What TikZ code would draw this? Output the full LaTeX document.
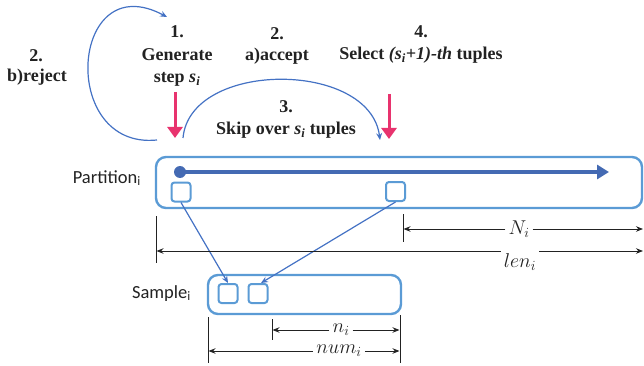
\RequirePackage{fix-cm}
\documentclass[tikz,border=0pt]{standalone}
\usepackage{fontspec}
\setmainfont{Liberation Serif}
\newfontfamily\labelsans{Carlito}
\usetikzlibrary{arrows.meta}

\definecolor{boxblue}{RGB}{91,155,213}
\definecolor{flowblue}{RGB}{68,106,179}
\definecolor{linkblue}{RGB}{68,114,196}
\definecolor{markpink}{RGB}{232,51,110}
\definecolor{ink}{RGB}{34,34,34}

\begin{document}
\begin{tikzpicture}[x=1pt,y=-1pt,
  steptext/.style={font=\fontsize{18}{21}\selectfont\bfseries, text=ink, anchor=base, inner sep=0pt},
  sidelabel/.style={font=\fontsize{18.5}{21}\selectfont\labelsans, text=ink, anchor=base east, inner sep=0pt},
  panel/.style={draw=boxblue, line width=2.4pt, rounded corners=10pt, inner sep=0pt},
  cell/.style={draw=boxblue, line width=2pt, rounded corners=3pt, minimum width=19pt, minimum height=19pt, inner sep=0pt},
  link/.style={draw=linkblue, line width=1.2pt, -{Stealth[length=7pt,width=6pt,inset=2.5pt]}},
  flow/.style={draw=flowblue, line width=4.5pt, -{Triangle[length=12pt,width=14pt]}},
  pinkarrow/.style={draw=markpink, line width=3pt, -{Triangle[length=11pt,width=15pt]}},
  tick/.style={draw=ink, line width=1pt},
  dim/.style={draw=ink, line width=0.9pt, -{Stealth[length=7pt,width=5.5pt]}},
  dimlabel/.style={font=\fontsize{20}{23}\selectfont, text=ink, inner sep=3pt}
]
\useasboundingbox (0,0) rectangle (644,366);

% --- step labels ---
\node[steptext] (r0) at (36,62) {2.};
\node[steptext] (r1) at (37,82) {b)reject};
\node[steptext] (g0) at (177,38) {1.};
\node[steptext] (g1) at (177,61) {Generate};
\node[steptext] (g2) at (177,83) {step \textit{s}\textsubscript{\textit{i}}};
\node[steptext] (a0) at (277,40) {2.};
\node[steptext] (a1) at (277,61) {a)accept};
\node[steptext] (k0) at (286,113) {3.};
\node[steptext] (k1) at (286,135) {Skip over \textit{s}\textsubscript{\textit{i}} tuples};
\node[steptext] (q0) at (421,38) {4.};
\node[steptext] (q1) at (421,60) {Select \textit{(s}\textsubscript{\textit{i}}\textit{+1)-th} tuples};

% --- loop arcs ---
\coordinate (rejA) at (157,140);
\coordinate (rejB) at (167,17);
\draw[link] (rejA) .. controls (58,150) and (70,-35) .. (rejB);
\coordinate (skipA) at (183,138);
\coordinate (skipB) at (380,140);
\draw[link] (skipA) .. controls (190,60) and (370,60) .. (skipB);

% --- position markers ---
\coordinate (m1a) at (175,92);
\coordinate (m1b) at (175,138);
\coordinate (m2a) at (389,94);
\coordinate (m2b) at (389,139);
\draw[pinkarrow] (m1a) -- (m1b);
\draw[pinkarrow] (m2a) -- (m2b);

% --- partition ---
\node[panel, minimum width=486pt, minimum height=51pt] (part) at (399,182.5) {};
\node[sidelabel] (partlab) at (141,183) {Partition\textsubscript{i}};
\coordinate (dot) at (180,172);
\coordinate (flowend) at (609,172);
\fill[flowblue] (dot) circle (6);
\draw[flow] (dot) -- (flowend);
\node[cell] (sq1) at (181,192) {};
\node[cell] (sq2) at (395.5,191.5) {};

% --- sample ---
\node[panel, minimum width=193pt, minimum height=39pt] (samp) at (304.5,294.5) {};
\node[sidelabel] (samplab) at (191,298) {Sample\textsubscript{i}};
\node[cell] (ss1) at (228,293.5) {};
\node[cell] (ss2) at (258,293.5) {};

\draw[link] (sq1.south) -- (ss1.north);
\draw[link] (sq2.south) -- ([xshift=3pt]ss2.north);

% --- partition dimensions ---
\coordinate (pt0a) at (156,216); \coordinate (pt0b) at (156,263);
\coordinate (pt1a) at (403,214); \coordinate (pt1b) at (403,242);
\draw[tick] (pt0a) -- (pt0b);
\draw[tick] (pt1a) -- (pt1b);
\coordinate (NL) at (403.5,229); \coordinate (NR) at (643,229);
\node[dimlabel] (Nlab) at (519,229) {$N_i$};
\draw[dim] (Nlab.west) -- (NL);
\draw[dim] (Nlab.east) -- (NR);
\coordinate (lenL) at (156.5,251); \coordinate (lenR) at (643,251);
\node[dimlabel] (lenlab) at (520,262) {$len_i$};
\draw[dim] (lenlab.west |- lenL) -- (lenL);
\draw[dim] (lenlab.east |- lenL) -- (lenR);

% --- sample dimensions ---
\coordinate (st0a) at (208,317); \coordinate (st0b) at (208,363);
\coordinate (st1a) at (272,319); \coordinate (st1b) at (272,340);
\coordinate (st2a) at (400,315); \coordinate (st2b) at (400,363);
\draw[tick] (st0a) -- (st0b);
\draw[tick] (st1a) -- (st1b);
\draw[tick] (st2a) -- (st2b);
\coordinate (nL) at (272.5,330); \coordinate (nR) at (399.5,330);
\node[dimlabel] (nlab) at (341,330) {$n_i$};
\draw[dim] (nlab.west) -- (nL);
\draw[dim] (nlab.east) -- (nR);
\coordinate (numL) at (208.5,351); \coordinate (numR) at (399.5,351);
\node[dimlabel] (numlab) at (339,351) {$num_i$};
\draw[dim] (numlab.west) -- (numL);
\draw[dim] (numlab.east) -- (numR);
\end{tikzpicture}
\end{document}
